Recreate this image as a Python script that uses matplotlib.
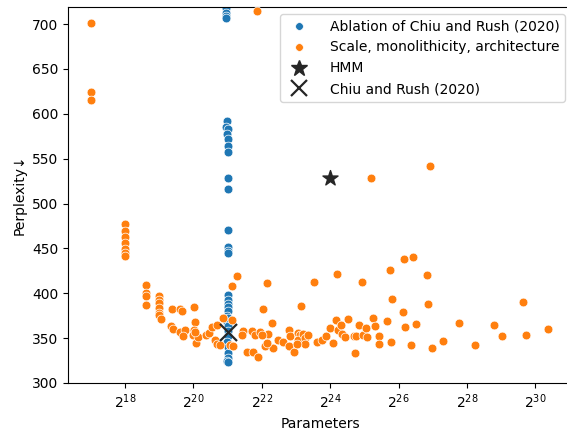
import numpy as np
import matplotlib.pyplot as plt
from matplotlib.lines import Line2D
from matplotlib.ticker import NullLocator

# log2(parameter count) and perplexity for each run
ablation_log2 = [20.96, 20.96, 20.96, 20.96, 20.98, 20.96, 21.01, 20.98, 21.01,
                 21.01, 21.01, 21.01, 21.01, 21.0, 21.01, 21.01, 21.01, 21.0,
                 21.01, 21.0, 21.01, 21.0, 20.98, 21.0, 20.98, 21.0, 21.01,
                 21.0, 20.98, 21.0, 21.01, 21.0, 20.98, 21.0]
ablation_ppl = [718, 712, 709, 707, 592, 585, 583, 577, 572, 564, 557, 529, 516,
                471, 451, 447, 445, 398, 392, 388, 385, 380, 375, 372, 368, 363,
                358, 352, 346, 340, 333, 328, 325, 323]

scale_log2 = [17.0, 17.0, 17.0, 21.86,
              18.0, 18.0, 18.0, 18.0, 18.0, 18.0, 18.0,
              18.6, 18.6, 18.6, 18.6,
              18.99, 18.99, 18.99, 18.99, 18.99, 18.99, 19.05,
              19.37, 19.61, 19.66, 19.35, 19.41, 19.61, 19.75, 19.68,
              20.02, 20.05, 20.02, 20.0, 20.07, 20.14, 20.05,
              20.36, 20.44, 20.54, 20.68, 20.87, 20.63, 20.68, 20.78,
              21.12, 21.12, 21.27, 21.07, 21.17,
              21.46, 21.41, 21.56, 21.7, 21.8, 21.75, 21.9, 21.95, 22.04,
              22.16, 22.09, 22.19, 22.29, 22.34, 22.48,
              21.99, 22.14, 22.63, 22.8, 22.82, 22.8, 22.94, 23.05, 23.12,
              23.07, 23.21, 23.26, 23.26, 23.02, 23.36, 23.15, 23.51, 23.6,
              23.75, 23.88, 23.99, 24.07, 24.17, 24.19, 24.24, 24.31, 24.34,
              24.43, 24.51, 24.68, 24.73, 24.75, 24.85, 24.92, 24.97, 25.05,
              25.07, 25.26, 25.31, 25.43, 25.43, 25.65, 25.75, 25.8, 25.77,
              26.12, 26.19, 26.16, 26.43, 26.36, 26.5, 26.82, 26.85, 26.97,
              27.31, 27.77, 28.23, 28.79, 29.03, 29.63, 29.72, 30.36,
              25.18, 26.92]
scale_ppl = [701, 624, 615, 715,
             477, 469, 463, 456, 449, 445, 441,
             409, 400, 397, 387,
             397, 393, 389, 384, 378, 376, 371,
             382, 382, 380, 364, 360, 357, 359, 352,
             385, 368, 359, 354, 345, 351, 357,
             354, 356, 362, 365, 372, 348, 344, 342,
             370, 408, 419, 342, 341,
             358, 353, 335, 358, 353, 335, 329, 357, 382,
             411, 341, 355, 367, 339, 348,
             354, 345, 346, 359, 352, 341, 335, 356, 354,
             348, 355, 350, 344, 344, 354, 386, 412, 346,
             348, 352, 361, 345, 370, 421, 359, 365, 355,
             351, 371, 352, 333, 352, 365, 413, 354, 361,
             351, 372, 363, 352, 344, 369, 426, 394, 346,
             379, 362, 438, 440, 342, 366, 420, 388, 339,
             347, 367, 342, 365, 352, 390, 354, 360,
             528, 542]

hmm_log2, hmm_ppl = [24.0], [528]
chiu_log2, chiu_ppl = [21.0], [357]

blue, orange, dark = 'tab:blue', 'tab:orange', '0.15'

fig = plt.figure(figsize=(5.67, 4.32), dpi=100)
ax = fig.add_axes([68 / 567, 49 / 432, 504 / 567, 376 / 432])
# the right edge of the axes runs past the canvas
ax.spines['right'].set_visible(False)

ax.scatter(np.exp2(ablation_log2), ablation_ppl, s=40, c=blue,
           edgecolors='white', linewidths=0.5, zorder=2)
ax.scatter(np.exp2(scale_log2), scale_ppl, s=40, c=orange,
           edgecolors='white', linewidths=0.5, zorder=3)
ax.scatter(np.exp2(hmm_log2), hmm_ppl, s=130, marker='*', c=dark, zorder=4)
ax.scatter(np.exp2(chiu_log2), chiu_ppl, s=150, marker='x', c=dark,
           linewidths=1.6, zorder=5)

ax.set_xscale('log', base=2)
ax.set_xticks([2.0 ** k for k in range(18, 31, 2)])
ax.xaxis.set_minor_locator(NullLocator())
ax.set_xlim(2 ** 16.33, 2 ** 31.07)
ax.set_ylim(300, 719)
ax.set_xlabel('Parameters')
ax.set_ylabel('Perplexity\u2193')

handles = [
    Line2D([], [], ls='', marker='o', ms=5.5, color=blue, mec='white', mew=0.4),
    Line2D([], [], ls='', marker='o', ms=5.5, color=orange, mec='white', mew=0.4),
    Line2D([], [], ls='', marker='*', ms=12, color=dark),
    Line2D([], [], ls='', marker='x', ms=11, mew=1.6, color=dark),
]
labels = ['Ablation of Chiu and Rush (2020)', 'Scale, monolithicity, architecture',
          'HMM', 'Chiu and Rush (2020)']
ax.legend(handles, labels, loc='upper right', handletextpad=1.2)

fig.savefig('out.png', dpi=100)
